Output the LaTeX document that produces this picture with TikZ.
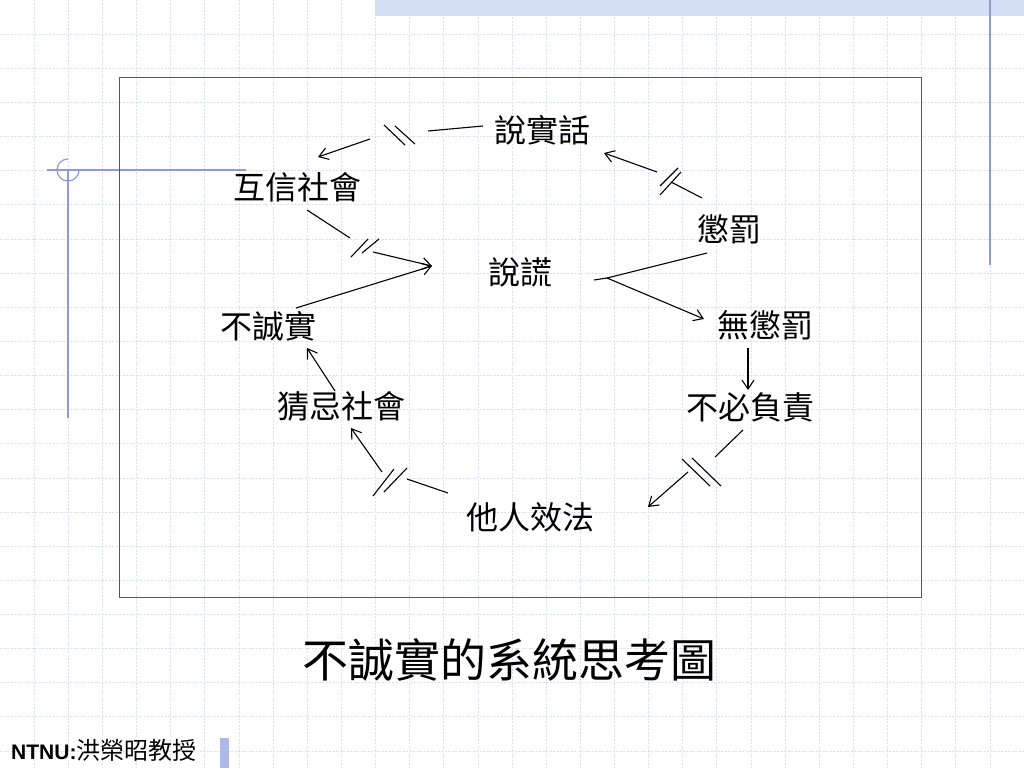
\documentclass[tikz,border=0pt]{standalone}
\usepackage{fontspec}
\newfontfamily\cjk{Noto Sans CJK TC}
\newfontfamily\footfont{Liberation Sans}
\usetikzlibrary{arrows.meta,calc}

\definecolor{gridblue}{RGB}{220,223,243}
\definecolor{bandblue}{RGB}{212,222,245}
\definecolor{decoblue}{RGB}{140,155,222}
\definecolor{framecol}{RGB}{78,78,150}

\tikzset{
  gridline/.style={gridblue,line width=0.7pt,dash pattern=on 2pt off 1.5pt},
  word/.style={font=\cjk\fontsize{32}{36}\selectfont,inner sep=0pt},
  link/.style={line width=1.1pt},
  arr/.style={link,-{Straight Barb[length=9pt,width=12pt]}},
  delay/.style={line width=1.1pt},
}

\begin{document}
\begin{tikzpicture}[x=1pt,y=-1pt]
  \useasboundingbox (0,0) rectangle (1024,768);
  \fill[white] (0,0) rectangle (1024,768);
  % background grid
  \foreach \i in {1,...,29}
    \draw[gridline] (\i*34.133,0) -- (\i*34.133,768);
  \foreach \j in {1,...,22}
    \draw[gridline] (0,\j*34.133) -- (1024,\j*34.133);
  % slide decorations
  \fill[bandblue] (375,0) rectangle (1024,16);
  \draw[decoblue,line width=1.4pt] (990,0) -- (990,265);
  \draw[decoblue,line width=1.2pt] (47,170) -- (246,170);
  \draw[decoblue,line width=1.2pt] (68,170) -- (68,418);
  \draw[decoblue,line width=1.2pt] (68,159) arc[start angle=270,end angle=0,radius=11];
  \fill[decoblue!70] (220,738) rectangle (229,768);
  \draw[framecol,line width=1pt] (119,77) rectangle (921,597);

  % loop of causes
  \node[word] (truth)     at (542,130) {說實話};
  \node[word] (trust)     at (297,187) {互信社會};
  \node[word] (punish)    at (729,229) {懲罰};
  \node[word] (lie)       at (520,272) {說謊};
  \node[word] (dishonest) at (268,326) {不誠實};
  \node[word] (nopunish)  at (765,325) {無懲罰};
  \node[word] (suspicion) at (341,406) {猜忌社會};
  \node[word] (noblame)   at (750,407) {不必負責};
  \node[word] (imitate)   at (530,517) {他人效法};

  \coordinate (d1a) at (428,131);
  \coordinate (d1b) at (370,139);
  \coordinate (d2a) at (671,182);
  \coordinate (d2b) at (657,172);
  \coordinate (fork) at (607,278);
  \coordinate (d5a) at (715,457);
  \coordinate (d5b) at (688,472);
  \coordinate (d6a) at (407,479);
  \coordinate (d6b) at (382,472);
  \coordinate (d9a) at (350,238);
  \coordinate (d9b) at (373,252);
  \coordinate (tip) at ($(lie)+(-88,-6)$);

  \draw[link] ($(truth)+(-59,-4)$) -- (d1a);
  \draw[arr] (d1b) -- ($(trust)+(21,-30)$);
  \draw[delay] (384,125) -- (405,145) (395,126) -- (415,144);

  \draw[link] ($(punish)+(-27,-31)$) -- (d2a);
  \draw[arr] (d2b) -- ($(truth)+(62,23)$);
  \draw[delay] (660,186) -- (678,168) (660,195) -- (681,172);

  \draw[link] ($(lie)+(74,8)$) -- (fork) -- ($(punish)+(-22,24)$);
  \draw[arr] (fork) -- ($(nopunish)+(-61,-6)$);

  \draw[arr] ($(nopunish)+(-17,23)$) -- ($(noblame)+(-2,-17)$);

  \draw[link] ($(noblame)+(-7,23)$) -- (d5a);
  \draw[arr] (d5b) -- ($(imitate)+(118,-10)$);
  \draw[delay] (682,459) -- (710,486) (692,458) -- (721,486);

  \draw[link] ($(imitate)+(-82,-24)$) -- (d6a);
  \draw[arr] (d6b) -- ($(suspicion)+(10,22)$);
  \draw[delay] (373,496) -- (394,469) (384,492) -- (407,468);

  \draw[arr] ($(suspicion)+(-6,-15)$) -- ($(dishonest)+(39,22)$);
  \draw[arr] ($(dishonest)+(28,-18)$) -- (tip);

  \draw[link] ($(trust)+(10,23)$) -- (d9a);
  \draw[arr] (d9b) -- (tip);
  \draw[delay] (351,257) -- (368,239) (362,253) -- (379,239);

  % captions
  \node[font=\cjk\fontsize{46}{50}\selectfont,inner sep=0pt] (title) at (509,660) {不誠實的系統思考圖};
  \node[anchor=west,inner sep=0pt] (author) at (11,750)
    {\footfont\fontsize{21}{24}\selectfont\bfseries NTNU:\cjk\mdseries\fontsize{24}{26}\selectfont 洪榮昭教授};
\end{tikzpicture}
\end{document}
